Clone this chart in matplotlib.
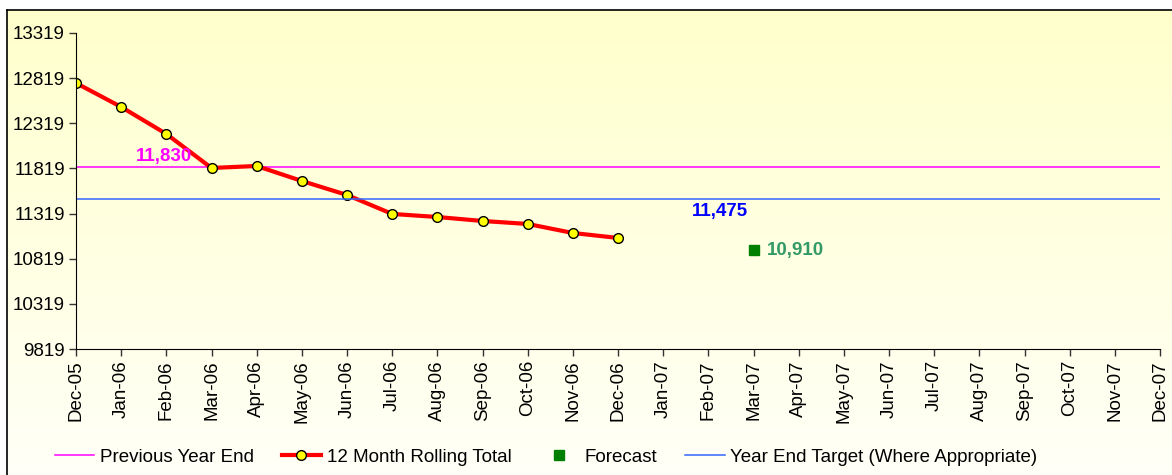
import numpy as np
import matplotlib
matplotlib.use("Agg")
from matplotlib import pyplot as plt

plt.rcParams["font.family"] = ["Liberation Sans", "DejaVu Sans"]

months = ["Dec-05", "Jan-06", "Feb-06", "Mar-06", "Apr-06", "May-06", "Jun-06",
          "Jul-06", "Aug-06", "Sep-06", "Oct-06", "Nov-06", "Dec-06", "Jan-07",
          "Feb-07", "Mar-07", "Apr-07", "May-07", "Jun-07", "Jul-07", "Aug-07",
          "Sep-07", "Oct-07", "Nov-07", "Dec-07"]
rolling_total = [12765, 12500, 12201, 11824, 11846, 11680, 11525,
                 11315, 11281, 11237, 11204, 11104, 11049]
previous_year_end = 11830
year_end_target = 11475
forecast_month = "Mar-07"
forecast_value = 10910
y_ticks = [9819, 10319, 10819, 11319, 11819, 12319, 12819, 13319]

W, H = 1172, 475
FS = 13.5
fig = plt.figure(figsize=(W / 100, H / 100), dpi=100)

# background gradient + outer frame
bg = fig.add_axes([7 / W, 0, 1, 1 - 10 / H], zorder=-5)
grad = np.linspace(0, 1, 256).reshape(-1, 1)
top = np.array([1.0, 1.0, 0.80])
bottom = np.array([1.0, 1.0, 0.97])
img = top[None, None, :] * (1 - grad[:, :, None]) + bottom[None, None, :] * grad[:, :, None]
bg.imshow(img, aspect="auto", extent=[0, 1, 0, 1])
bg.set_xticks([])
bg.set_yticks([])
for s in ["right", "bottom"]:
    bg.spines[s].set_visible(False)
for s in ["left", "top"]:
    bg.spines[s].set_linewidth(1.2)

ax = fig.add_axes([76 / W, 1 - 349 / H, (1160 - 76) / W, (349 - 33) / H])
ax.set_facecolor("none")

x = np.arange(len(months))
ax.axhline(previous_year_end, color="#FF00FF", lw=1.1, label="Previous Year End")
ax.plot(x[:len(rolling_total)], rolling_total, color="red", lw=3, marker="o",
        markersize=7, markerfacecolor="#FFFF00", markeredgecolor="black",
        markeredgewidth=1, label="12 Month Rolling Total")
fx = months.index(forecast_month)
ax.plot([fx], [forecast_value], linestyle="none", marker="s", markersize=7,
        color="#008000", label="Forecast")
ax.axhline(year_end_target, color="#3366FF", lw=1.1,
           label="Year End Target (Where Appropriate)")

ax.text(1.95, previous_year_end + 120, f"{previous_year_end:,}", color="#FF00FF",
        fontsize=FS, fontweight="bold", ha="center", va="center")
ax.text(14.25, year_end_target - 40, f"{year_end_target:,}", color="#0000FF",
        fontsize=FS, fontweight="bold", ha="center", va="top")
ax.text(fx + 0.3, forecast_value, f"{forecast_value:,}", color="#339966",
        fontsize=FS, fontweight="bold", ha="left", va="center")

ax.set_xlim(0, len(months) - 1)
ax.set_ylim(y_ticks[0], y_ticks[-1])
ax.set_xticks(x)
ax.set_xticklabels(months, rotation=90, fontsize=FS)
ax.set_yticks(y_ticks)
ax.set_yticklabels([str(v) for v in y_ticks], fontsize=FS)
ax.tick_params(direction="out", length=5, width=1, color="#333333", pad=3)
ax.spines["top"].set_visible(False)
ax.spines["right"].set_visible(False)

fig.legend(loc="center", bbox_to_anchor=(546 / W, 1 - 457 / H), ncol=4,
           frameon=False, fontsize=FS, handlelength=2.1, handletextpad=0.3,
           columnspacing=1.5)

fig.savefig("out.png", dpi=100)
